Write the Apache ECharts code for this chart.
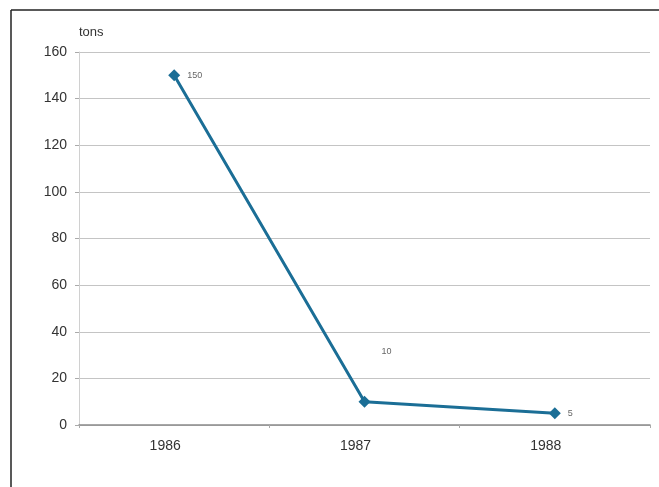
<!DOCTYPE html>
<html>
<head>
<meta charset="utf-8">
<script src="https://cdn.jsdelivr.net/npm/echarts@6/dist/echarts.min.js"></script>
<style>
  html, body { margin: 0; padding: 0; background: #fff; }
  #chart { width: 659px; height: 487px; }
</style>
</head>
<body>
<div id="chart"></div>
<script>
// Annual tonnage, 1986–1988
const years = ['1986', '1987', '1988'];
const tons = [150, 10, 5];
const yTicks = [0, 20, 40, 60, 80, 100, 120, 140, 160];

// The middle value label sits above and to the right of its point.
const labelStyles = [
  { position: 'right', distance: 7 },
  { position: 'inside', offset: [22, -50] },
  { position: 'right', distance: 7 }
];

const chart = echarts.init(document.getElementById('chart'), null, { renderer: 'canvas' });

chart.setOption({
  animation: false,
  backgroundColor: '#ffffff',
  textStyle: { fontFamily: 'Liberation Sans, Arial, sans-serif' },
  graphic: [
    { type: 'line', shape: { x1: 11, y1: 10, x2: 11, y2: 487 }, style: { stroke: '#222', lineWidth: 1.5 } },
    { type: 'line', shape: { x1: 11, y1: 10, x2: 659, y2: 10 }, style: { stroke: '#222', lineWidth: 1.5 } }
  ],
  grid: { left: 79, right: 9, top: 52, bottom: 62, containLabel: false },
  xAxis: {
    type: 'category',
    data: years,
    boundaryGap: true,
    axisLine: { lineStyle: { color: '#8a8a8a', width: 1.5 } },
    axisTick: { show: true, length: 3, lineStyle: { color: '#aaa' } },
    axisLabel: { color: '#333', fontSize: 14, margin: 14, padding: [0, 18, 0, 0] }
  },
  yAxis: {
    type: 'value',
    min: yTicks[0],
    max: yTicks[yTicks.length - 1],
    interval: yTicks[1] - yTicks[0],
    name: 'tons',
    nameLocation: 'end',
    nameGap: 13,
    nameTextStyle: { color: '#333', fontSize: 13, align: 'left' },
    axisLine: { show: true, lineStyle: { color: '#d0d0d0', width: 1 } },
    axisTick: { show: true, length: 4, lineStyle: { color: '#aaa' } },
    axisLabel: { color: '#333', fontSize: 14, margin: 12 },
    splitLine: { lineStyle: { color: '#c4c4c4', width: 1.2 } }
  },
  series: [{
    type: 'line',
    data: tons.map((v, i) => ({
      value: v,
      label: Object.assign({ show: true, color: '#666', fontSize: 9 }, labelStyles[i])
    })),
    symbol: 'diamond',
    symbolSize: 12,
    lineStyle: { color: '#1b6e96', width: 3 },
    itemStyle: { color: '#1b6e96' }
  }]
});
</script>
</body>
</html>
